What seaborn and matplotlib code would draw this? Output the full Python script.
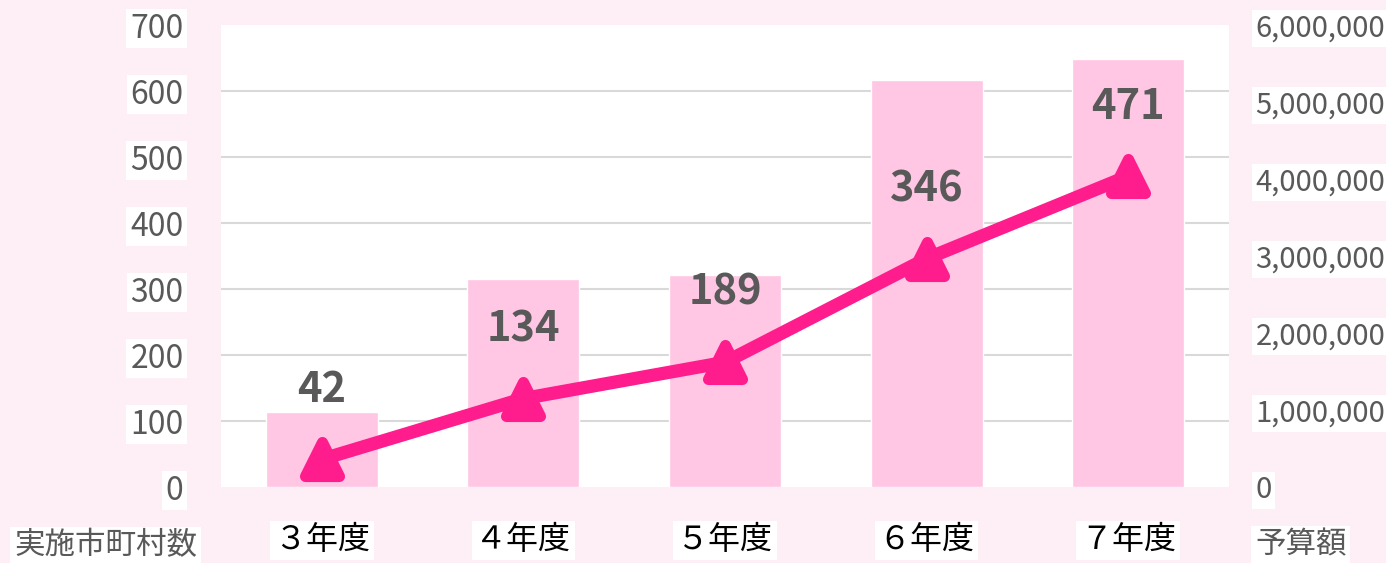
import matplotlib
matplotlib.use('Agg')
import matplotlib.pyplot as plt
import seaborn as sns
import pandas as pd
from matplotlib.markers import MarkerStyle
from matplotlib.ticker import FuncFormatter

# ---- data ----
years = ['３年度', '４年度', '５年度', '６年度', '７年度']
municipalities = [42, 134, 189, 346, 471]
budget = [980000, 2700000, 2750000, 5290000, 5560000]
left_ticks = [0, 100, 200, 300, 400, 500, 600, 700]
right_ticks = [0, 1000000, 2000000, 3000000, 4000000, 5000000, 6000000]
left_title = '実施市町村数'
right_title = '予算額'

BG = '#FEEEF5'
BAR = '#FFC7E3'
LINE = '#FF1C8C'
GRAY = '#595959'
GRID = '#D9D9D9'

sns.set_theme(style='white')
plt.rcParams['font.family'] = ['Noto Sans CJK JP', 'DejaVu Sans']

df = pd.DataFrame({'year': years, 'count': municipalities, 'budget': budget})

W, H = 1386, 563
fig = plt.figure(figsize=(W / 100, H / 100), dpi=100, facecolor=BG)
ax = fig.add_axes([221 / W, 1 - 487 / H, 1008 / W, 462 / H])
axr = ax.twinx()

# bars (budget, right axis) drawn behind
sns.barplot(data=df, x='year', y='budget', ax=axr, color=BAR, saturation=1,
            width=0.555, zorder=2)
axr.set_ylim(0, right_ticks[-1])
axr.set_yticks(right_ticks)
axr.yaxis.set_major_formatter(FuncFormatter(lambda v, p: f'{int(v):,}'))
# grid lines belong to left (count) axis scale
axr.set_yticks([c * right_ticks[-1] / left_ticks[-1] for c in left_ticks], minor=True)
axr.tick_params(axis='y', which='minor', length=0)
axr.grid(False, which='major')
axr.grid(True, which='minor', axis='y', color=GRID, linewidth=1.5)
axr.set_axisbelow(True)
axr.patch.set_visible(True)
axr.patch.set_facecolor('white')
axr.set_ylabel('')

# line (count, left axis) on top
sns.pointplot(data=df, x='year', y='count', ax=ax, color=LINE, markers='^',
              errorbar=None, linewidth=9.5, markersize=25, markeredgewidth=8)
for ln in ax.lines:
    ln.set_marker(MarkerStyle('^', joinstyle='round'))
    ln.set_markeredgecolor(LINE)
    ln.set_markerfacecolor(LINE)
    ln.set_solid_joinstyle('round')
    ln.set_clip_on(False)
ax.set_zorder(axr.get_zorder() + 1)
ax.patch.set_visible(False)
ax.set_ylim(0, left_ticks[-1])
ax.set_yticks(left_ticks)
ax.set_xlim(-0.5, len(years) - 0.5)
ax.set_xticks(range(len(years)))
ax.set_xticklabels(years)
ax.set_xlabel('')
ax.set_ylabel('')
ax.grid(False)

for i, v in enumerate(municipalities):
    ax.annotate(str(v), (i, v), xytext=(0, 50), textcoords='offset points',
                ha='center', va='center', fontsize=30, fontweight='bold',
                color=GRAY)

for a in (ax, axr):
    for s in a.spines.values():
        s.set_visible(False)

ax.tick_params(axis='y', length=0, pad=27, labelsize=23, labelcolor=GRAY)
ax.tick_params(axis='x', length=0, pad=27, labelsize=23, labelcolor='black')
axr.tick_params(axis='y', which='major', length=0, pad=19, labelsize=21,
                labelcolor=GRAY)

box = dict(boxstyle='square,pad=0.12', facecolor='white', edgecolor='none')
for lbl in ax.get_yticklabels() + ax.get_xticklabels() + axr.get_yticklabels():
    lbl.set_bbox(box)

fig.text(14 / W, 1 - 546 / H, left_title, ha='left', va='center', fontsize=22,
         color=GRAY, bbox=box)
fig.text(1255 / W, 1 - 545 / H, right_title, ha='left', va='center', fontsize=22,
         color=GRAY, bbox=box)

fig.savefig('out.png', dpi=100, facecolor=BG)
